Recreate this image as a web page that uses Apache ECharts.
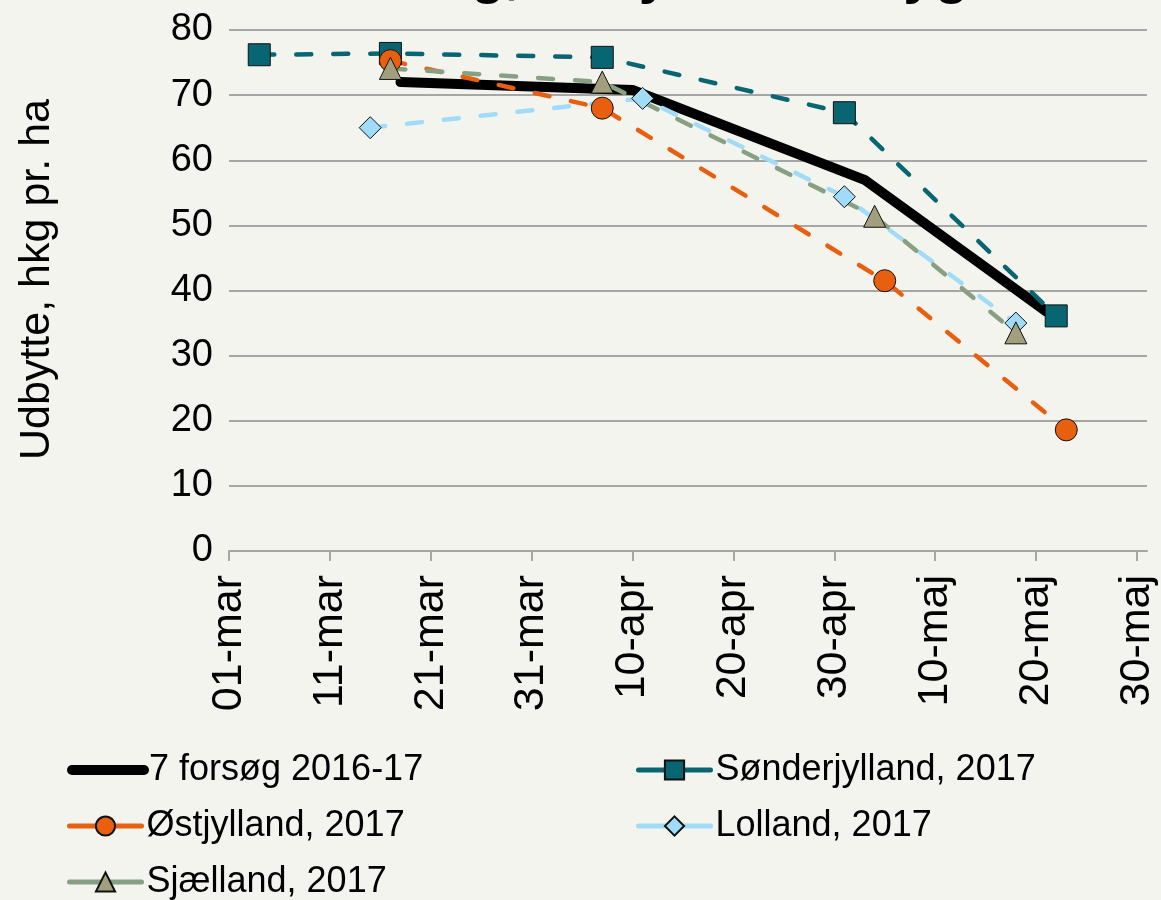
<!DOCTYPE html>
<html>
<head>
<meta charset="utf-8">
<script src="https://cdn.jsdelivr.net/npm/echarts@6/dist/echarts.min.js"></script>
<style>
  html, body { margin: 0; padding: 0; background: #f4f4ef; }
  #chart { width: 1161px; height: 900px; }
</style>
</head>
<body>
<div id="chart"></div>
<script>
// dates are day-month in 2017
var months = ['jan', 'feb', 'mar', 'apr', 'maj', 'jun', 'jul', 'aug', 'sep', 'okt', 'nov', 'dec'];

var forsoegDates = ['18-03', '10-04', '03-05', '21-05'];
var forsoegValues = [72.0, 70.8, 57.0, 36.8];

var soenderDates = ['04-03', '17-03', '07-04', '01-05', '22-05'];
var soenderValues = [76.2, 76.4, 75.8, 67.3, 36.1];

var oestDates = ['17-03', '07-04', '05-05', '23-05'];
var oestValues = [75.3, 68.0, 41.5, 18.6];

var lollandDates = ['15-03', '11-04', '01-05', '18-05'];
var lollandValues = [65.0, 69.5, 54.4, 35.0];

var sjaellandDates = ['17-03', '07-04', '04-05', '18-05'];
var sjaellandValues = [74.1, 72.0, 51.4, 33.5];

var xTicks = [0, 10, 20, 30, 40, 50, 60, 70, 80, 90]; // days after 01-mar
var seriesNames = ['7 forsøg 2016-17', 'Sønderjylland, 2017', 'Østjylland, 2017', 'Lolland, 2017', 'Sjælland, 2017'];

var start = Date.UTC(2017, 2, 1);
var oneDay = 24 * 3600 * 1000;

function dayOf(s) {
  var p = s.split('-');
  return Math.round((Date.UTC(2017, +p[1] - 1, +p[0]) - start) / oneDay);
}
function pairs(dates, values) {
  return dates.map(function (d, i) { return [dayOf(d), values[i]]; });
}
function dateLabel(v) {
  var d = new Date(start + v * oneDay);
  var dd = d.getUTCDate();
  return (dd < 10 ? '0' : '') + dd + '-' + months[d.getUTCMonth()];
}

var font = 'Liberation Sans, Arial, sans-serif';
var dash = [15, 22];

// one legend box per entry, two columns like the original
function legendItem(name, left, top, thick) {
  return {
    left: left,
    top: top,
    padding: 0,
    itemWidth: 72,
    itemHeight: 24,
    selectedMode: false,
    textStyle: { fontFamily: font, fontSize: 36, color: '#000' },
    data: [thick
      ? { name: name, itemStyle: { opacity: 0 }, lineStyle: { width: 10, type: 'solid' } }
      : { name: name, lineStyle: { width: 5, type: 'solid' } }]
  };
}

var myChart = echarts.init(document.getElementById('chart'));
var option = {
  backgroundColor: '#f4f4ef',
  animation: false,
  // title sits mostly above the picture, only its lowest strokes show
  title: {
    text: 'Sådag, udbytte i vårbyg',
    left: 337,
    top: -51,
    padding: 0,
    textStyle: { fontFamily: font, fontSize: 56, fontWeight: 'bold', color: '#000' }
  },
  grid: { left: 229, right: 14, top: 30, bottom: 349, containLabel: false },
  xAxis: {
    type: 'value',
    min: 0,
    max: 91,
    interval: 10,
    splitLine: { show: false },
    axisLine: { lineStyle: { color: '#a6a6a6', width: 2 } },
    axisTick: { customValues: xTicks, length: 10, lineStyle: { color: '#a6a6a6', width: 2 } },
    axisLabel: {
      customValues: xTicks,
      rotate: 90,
      margin: 24,
      fontFamily: font,
      fontSize: 43,
      color: '#000',
      formatter: dateLabel
    }
  },
  yAxis: {
    type: 'value',
    min: 0,
    max: 80,
    interval: 10,
    name: 'Udbytte, hkg pr. ha',
    nameLocation: 'middle',
    nameGap: 170,
    nameTextStyle: { fontFamily: font, fontSize: 43, color: '#000', padding: [0, 0, 0, 22] },
    axisLine: { show: false },
    axisTick: { show: false },
    splitLine: { lineStyle: { color: '#a6a6a6', width: 2 } },
    axisLabel: { margin: 16, fontFamily: font, fontSize: 38, color: '#000' }
  },
  legend: [
    legendItem(seriesNames[0], 67, 752, true),
    legendItem(seriesNames[1], 636, 752, false),
    legendItem(seriesNames[2], 67, 808, false),
    legendItem(seriesNames[3], 636, 808, false),
    legendItem(seriesNames[4], 67, 864, false)
  ],
  series: [{
    name: seriesNames[0],
    type: 'line',
    symbol: 'none',
    color: '#000',
    lineStyle: { color: '#000', width: 10, cap: 'round', join: 'round' },
    data: pairs(forsoegDates, forsoegValues)
  }, {
    name: seriesNames[1],
    type: 'line',
    symbol: 'rect',
    symbolSize: 22,
    color: '#086572',
    itemStyle: { color: '#086572', borderColor: '#111', borderWidth: 1 },
    lineStyle: { color: '#086572', width: 4.5, type: dash, cap: 'round' },
    data: pairs(soenderDates, soenderValues)
  }, {
    name: seriesNames[2],
    type: 'line',
    symbol: 'circle',
    symbolSize: 22,
    color: '#e8600f',
    itemStyle: { color: '#e8600f', borderColor: '#111', borderWidth: 1 },
    lineStyle: { color: '#e8600f', width: 4.5, type: dash, cap: 'round' },
    data: pairs(oestDates, oestValues)
  }, {
    name: seriesNames[3],
    type: 'line',
    symbol: 'diamond',
    symbolSize: 22,
    color: '#a0dcf8',
    itemStyle: { color: '#a0dcf8', borderColor: '#111', borderWidth: 1 },
    lineStyle: { color: '#a0dcf8', width: 4.5, type: dash, cap: 'round' },
    data: pairs(lollandDates, lollandValues)
  }, {
    name: seriesNames[4],
    type: 'line',
    symbol: 'triangle',
    symbolSize: 22,
    color: '#a29f7f',
    itemStyle: { color: '#a29f7f', borderColor: '#111', borderWidth: 1 },
    lineStyle: { color: '#87a083', width: 4.5, type: dash, cap: 'round' },
    data: pairs(sjaellandDates, sjaellandValues)
  }]
};
myChart.setOption(option);
</script>
</body>
</html>
